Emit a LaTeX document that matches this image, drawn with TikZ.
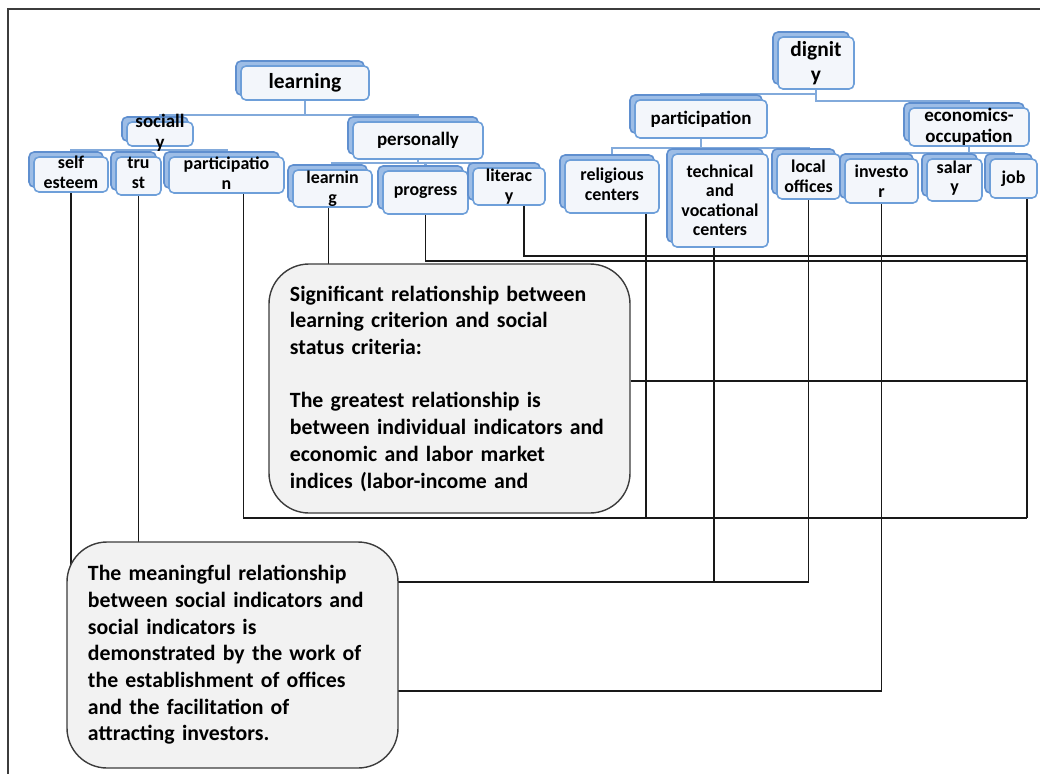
\documentclass[tikz,border=0pt]{standalone}
\usepackage{fontspec}
\setmainfont{Carlito}
\usetikzlibrary{shadows,backgrounds,calc}

\definecolor{boxfill}{HTML}{F3F6FB}
\definecolor{boxedge}{HTML}{6E9FD9}
\definecolor{backfill}{HTML}{9DBDE6}
\definecolor{backedge}{HTML}{5F8FCF}
\definecolor{treeblue}{HTML}{82AADB}
\definecolor{notefill}{HTML}{F2F2F2}
\definecolor{noteedge}{HTML}{3C3C3C}

\begin{document}
\begin{tikzpicture}[x=0.2mm,y=-0.2mm,
    tier/.style={draw=boxedge,fill=boxfill,line width=0.9pt,rounded corners=1mm,inner sep=0pt,
      copy shadow={shadow xshift=-1mm,shadow yshift=1mm,fill=backfill,draw=backedge}},
    rootlevel/.style={align=center,inner sep=0pt,font=\fontsize{12.2}{14.2}\selectfont\bfseries},
    midlevel/.style={align=center,inner sep=0pt,font=\fontsize{10.8}{12}\selectfont\bfseries},
    leaflevel/.style={align=center,inner sep=0pt,font=\fontsize{10.2}{11.1}\selectfont\bfseries},
    note/.style={draw=noteedge,fill=notefill,line width=0.8pt,rounded corners=8mm,
      align=left,inner xsep=4.2mm,font=\fontsize{12.4}{15.2}\selectfont\bfseries},
    treeedge/.style={draw=treeblue,line width=1.3pt},
    noteline/.style={draw=black!90,line width=0.7pt}]
    \useasboundingbox (0,0) rectangle (1040,774);
    \draw[noteedge,line width=0.8pt] (1040,9) -| (8,774);

    % learning tree
    \node[tier,minimum width=25.6mm,minimum height=6.8mm,label={[rootlevel]center:learning}] (learning) at (305,83) {};
    \node[tier,minimum width=13.2mm,minimum height=4.8mm,label={[midlevel,yshift=0.3mm]center:sociall\\y}] (socially) at (160,134) {};
    \node[tier,minimum width=14.8mm,minimum height=7mm,label={[leaflevel,yshift=0.4mm]center:self\\esteem}] (esteem) at (71,174.5) {};
    \node[tier,minimum width=9mm,minimum height=7.6mm,label={[leaflevel,yshift=0.6mm]center:tru\\st}] (trust) at (138.5,176) {};
    \node[tier,minimum width=23mm,minimum height=7.2mm,label={[leaflevel,yshift=0.4mm]center:participatio\\n}] (partL) at (226.5,175) {};
    \node[tier,minimum width=26mm,minimum height=7.4mm,label={[midlevel]center:personally}] (personally) at (418,140.5) {};
    \node[tier,minimum width=15.8mm,minimum height=7.4mm,label={[leaflevel]center:learnin\\g}] (learning2) at (332.5,188.5) {};
    \node[tier,minimum width=17mm,minimum height=8.6mm,label={[leaflevel]center:progress}] (progress) at (425.5,192.5) {};
    \node[tier,minimum width=14.4mm,minimum height=7.4mm,label={[leaflevel]center:literac\\y}] (literacy) at (509,186.5) {};

    % dignity tree
    \node[tier,minimum width=15.2mm,minimum height=10.4mm,label={[rootlevel]center:dignit\\y}] (dignity) at (816,63) {};
    \node[tier,minimum width=26.4mm,minimum height=7.6mm,label={[midlevel]center:participation}] (partR) at (701,119) {};
    \node[tier,minimum width=18.8mm,minimum height=10.6mm,label={[leaflevel,yshift=0.4mm]center:religious\\centers}] (religious) at (612,186.5) {};
    \node[tier,minimum width=19.2mm,minimum height=18.6mm,label={[leaflevel]center:technical\\and\\vocational\\centers}] (technical) at (720,200.5) {};
    \node[tier,minimum width=12.6mm,minimum height=9mm,label={[leaflevel]center:local\\offices}] (local) at (808.5,176.5) {};
    \node[tier,minimum width=24mm,minimum height=7.6mm,label={[midlevel]center:economics-\\occupation}] (econ) at (969,127) {};
    \node[tier,minimum width=14.6mm,minimum height=8.8mm,label={[leaflevel]center:investo\\r}] (investor) at (881.5,181) {};
    \node[tier,minimum width=11mm,minimum height=8.4mm,label={[leaflevel,yshift=0.4mm]center:salar\\y}] (salary) at (954.5,180) {};
    \node[tier,minimum width=9.4mm,minimum height=7.8mm,label={[leaflevel]center:job}] (job) at (1013.5,178.5) {};

    % notes
    \node[note,minimum width=72.2mm,minimum height=49.8mm,text width=63.8mm] (note1) at (449.5,388.5)
      {Significant relationship between\\ learning criterion and social\\ status criteria:\\[15.2pt]
       The greatest relationship is\\ between individual indicators and\\ economic and labor market\\ indices (labor-income and};
    \node[note,minimum width=66.2mm,minimum height=45.2mm,text width=57.8mm] (note2) at (232.5,655)
      {The meaningful relationship\\ between social indicators and\\ social indicators is\\ demonstrated by the work of\\
       the establishment of offices\\ and the facilitation of\\ attracting investors.};

    \coordinate (rail) at (1027,518);
    \coordinate (tapA) at (1027,256);
    \coordinate (tapB) at (1027,261);
    \coordinate (tapC) at (1027,381);
    \coordinate (tapD) at (398,582);
    \coordinate (tapE) at (398,691);

    \begin{scope}[on background layer]
    \draw[treeedge] (learning.south) -- ++(0,14) -| (socially.north);
    \draw[treeedge] (learning.south) -- ++(0,14) -| (personally.north);
    \draw[treeedge] (socially.south) -- ++(0,3) -| (esteem.north);
    \draw[treeedge] (socially.south) -- ++(0,3) -| (trust.north);
    \draw[treeedge] (socially.south) -- ++(0,3) -| (partL.north);
    \draw[treeedge] (personally.south) -- ++(0,3) -| (learning2.north);
    \draw[treeedge] (personally.south) -- ++(0,3) -| (progress.north);
    \draw[treeedge] (personally.south) -- ++(0,3) -| (literacy.north);
    \draw[treeedge] (dignity.south) -- ++(0,4) -| (partR.north);
    \draw[treeedge] (dignity.south) -- ++(0,11) -| (econ.north);
    \draw[treeedge] (partR.south) -- ++(0,9) -| (religious.north);
    \draw[treeedge] (partR.south) -- ++(0,9) -| (technical.north);
    \draw[treeedge] (partR.south) -- ++(0,9) -| (local.north);
    \draw[treeedge] (econ.south) -- ++(0,6) -| (investor.north);
    \draw[treeedge] (econ.south) -- ++(0,6) -| (salary.north);
    \draw[treeedge] (econ.south) -- ++(0,6) -| (job.north);

    \draw[noteline] (esteem.south) |- (note2.center);
    \draw[noteline] (trust.south) |- (note2.center);
    \draw[noteline] ($(partL.south)+(17,0)$) |- (rail);
    \draw[noteline] ($(learning2.south)+(-4,0)$) |- (note1.center);
    \draw[noteline] (progress.south) |- (tapB);
    \draw[noteline] ($(literacy.south)+(15,0)$) |- (tapA);
    \draw[noteline] ($(religious.south)+(34,0)$) |- (rail);
    \draw[noteline] (rail |- job.south) -- (rail);
    \draw[noteline] (note1.east |- tapC) -- (tapC);
    \draw[noteline] ($(technical.south)+(-6,0)$) |- (tapD);
    \draw[noteline] (local.south) |- (tapD);
    \draw[noteline] (investor.south) |- (tapE);
    \end{scope}
\end{tikzpicture}
\end{document}
